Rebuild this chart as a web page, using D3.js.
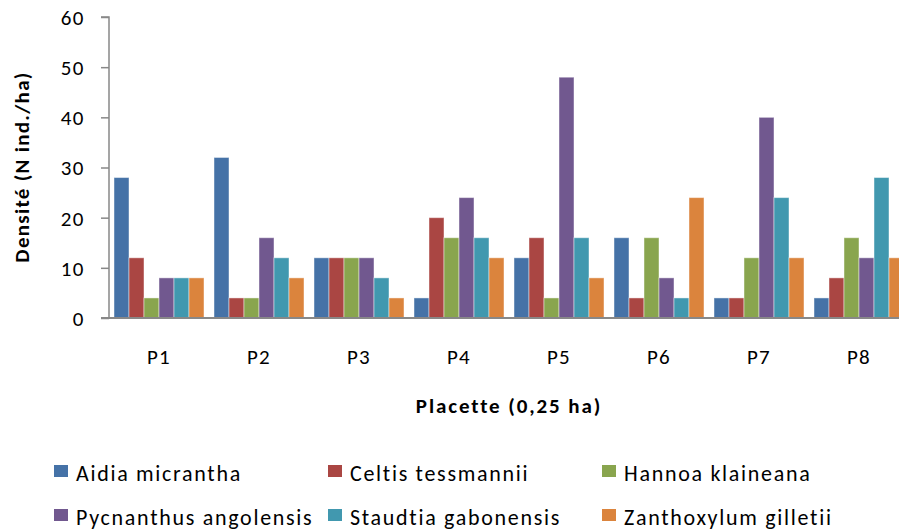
<!DOCTYPE html>
<html>
<head>
<meta charset="utf-8">
<script src="https://cdn.jsdelivr.net/npm/d3@7"></script>
<style>
    body { margin: 0; background: #fff; }
    text { font-family: Carlito, Lato, "Open Sans", sans-serif; fill: #000; }
    .axis-label { font-weight: bold; font-size: 21px; }
</style>
</head>
<body>
<div id="chart"></div>
<script>
// Data
const plots = ["P1", "P2", "P3", "P4", "P5", "P6", "P7", "P8"];
const species = ["Aidia micrantha", "Celtis tessmannii", "Hannoa klaineana",
                 "Pycnanthus angolensis", "Staudtia gabonensis", "Zanthoxylum gilletii"];
const aidia       = [28, 32, 12, 4, 12, 16, 4, 4];
const celtis      = [12, 4, 12, 20, 16, 4, 4, 8];
const hannoa      = [4, 4, 12, 16, 4, 16, 12, 16];
const pycnanthus  = [8, 16, 12, 24, 48, 8, 40, 12];
const staudtia    = [8, 12, 8, 16, 16, 4, 24, 28];
const zanthoxylum = [8, 8, 4, 12, 8, 24, 12, 12];
const yTicks = [0, 10, 20, 30, 40, 50, 60];

const seriesValues = [aidia, celtis, hannoa, pycnanthus, staudtia, zanthoxylum];
const colors = ["#4572A7", "#AA4643", "#89A54E", "#71588F", "#4198AF", "#DB843D"];

// Dimensions (plot runs slightly past the right edge, like the original)
const margin = {top: 17, left: 109};
const width = 800;
const height = 301;

const svg = d3.select("#chart")
    .append("svg")
    .attr("width", 899)
    .attr("height", 531);

const g = svg.append("g")
    .attr("transform", `translate(${margin.left},${margin.top})`);

// Scales
const x0 = d3.scaleBand()
    .domain(plots)
    .range([0, width]);

const x1 = d3.scaleBand()
    .domain(species)
    .range([5, x0.bandwidth() - 5]);

const y = d3.scaleLinear()
    .domain([0, 60])
    .range([height, 0]);

const color = d3.scaleOrdinal()
    .domain(species)
    .range(colors);

// Bars
const rows = [];
plots.forEach((p, i) => {
    species.forEach((s, j) => {
        rows.push({plot: p, species: s, value: seriesValues[j][i]});
    });
});

g.selectAll(".bar")
    .data(rows)
    .enter()
    .append("rect")
    .attr("class", "bar")
    .attr("x", d => x0(d.plot) + x1(d.species))
    .attr("y", d => y(d.value))
    .attr("width", x1.bandwidth())
    .attr("height", d => height - y(d.value))
    .attr("fill", d => color(d.species))
    .attr("stroke", "#fff")
    .attr("stroke-opacity", 0.45)
    .attr("stroke-width", 1);

// Y axis
const yAxis = g.append("g")
    .call(d3.axisLeft(y).tickValues(yTicks).tickSize(8).tickPadding(16));
yAxis.selectAll("line, path").attr("stroke", "#888").attr("stroke-width", 1.5);
yAxis.select(".domain").attr("d", `M-8,${y(60)}H0V${height}`);
yAxis.selectAll("text")
    .style("font-size", "21px")
    .style("letter-spacing", "1.5px")
    .attr("dy", "0.35em");

// X axis
const xAxis = g.append("g")
    .attr("transform", `translate(0,${height})`)
    .call(d3.axisBottom(x0).tickSize(0).tickPadding(31));
xAxis.select(".domain").attr("d", `M-8,0H${width}`)
    .attr("stroke", "#888").attr("stroke-width", 2);
xAxis.selectAll("text")
    .style("font-size", "21px")
    .style("letter-spacing", "1.2px");

// Axis titles
g.append("text")
    .attr("class", "axis-label")
    .attr("text-anchor", "middle")
    .attr("x", width / 2)
    .attr("y", height + 95)
    .style("letter-spacing", "1.9px")
    .text("Placette (0,25 ha)");

g.append("text")
    .attr("class", "axis-label")
    .attr("text-anchor", "middle")
    .attr("transform", "rotate(-90)")
    .attr("x", -150)
    .attr("y", -80)
    .style("letter-spacing", "1.3px")
    .text("Densité (N ind./ha)");

// Legend, 3 columns x 2 rows
const legend = svg.append("g")
    .attr("transform", "translate(54,465)");

species.forEach((s, i) => {
    const cx = (i % 3) * 274;
    const cy = Math.floor(i / 3) * 44;
    legend.append("rect")
        .attr("x", cx)
        .attr("y", cy)
        .attr("width", 14)
        .attr("height", 12)
        .attr("fill", color(s));
    legend.append("text")
        .attr("x", cx + 22)
        .attr("y", cy + 16)
        .style("font-size", "22px")
        .style("letter-spacing", "1.7px")
        .text(s);
});
</script>
</body>
</html>
